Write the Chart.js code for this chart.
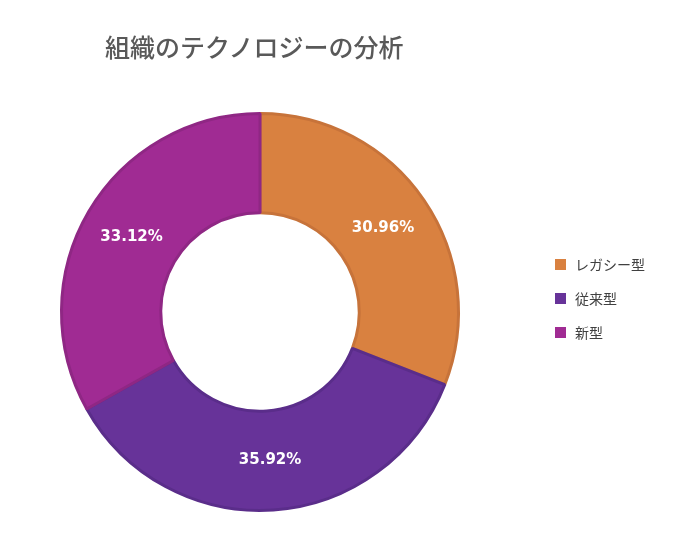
<!DOCTYPE html>
<html>
<head>
<meta charset="utf-8">
<script src="https://cdn.jsdelivr.net/npm/chart.js@4"></script>
<style>
  body { margin: 0; background: #fff; font-family: "Noto Sans CJK JP", "Noto Sans", sans-serif; }
  #wrap { position: relative; width: 679px; height: 539px; }
  #title { position: absolute; left: 105px; top: 28px; font-size: 25px; color: #595959; font-weight: 500; }
  #legend { position: absolute; left: 555px; top: 247px; font-size: 14px; color: #404040; }
  .item { display: flex; align-items: center; height: 34px; }
  .box { width: 11px; height: 11px; margin-right: 9px; }
</style>
</head>
<body>
<div id="wrap">
  <canvas id="c" width="679" height="539"></canvas>
  <div id="title">組織のテクノロジーの分析</div>
  <div id="legend"></div>
</div>
<script>
const labels = ["レガシー型", "従来型", "新型"];
const values = [30.96, 35.92, 33.12];
const colors = ["#D98140", "#673399", "#A02B93"];
const borders = ["#C7733A", "#5A2D8A", "#8F2784"];

// legend
const legendEl = document.getElementById("legend");
labels.forEach((l, i) => {
  const d = document.createElement("div");
  d.className = "item";
  d.innerHTML = `<span class="box" style="background:${colors[i]}"></span>${l}`;
  legendEl.appendChild(d);
});

// percentage labels drawn at arc centres
const pctLabels = {
  id: "pctLabels",
  afterDatasetsDraw(chart) {
    const ctx = chart.ctx;
    const total = values.reduce((a, b) => a + b, 0);
    chart.getDatasetMeta(0).data.forEach((arc, i) => {
      const p = arc.tooltipPosition();
      ctx.save();
      ctx.fillStyle = "#fff";
      ctx.font = "bold 15px 'DejaVu Sans', sans-serif";
      ctx.textAlign = "center";
      ctx.textBaseline = "middle";
      ctx.fillText(((values[i] / total) * 100).toFixed(2) + "%", p.x, p.y);
      ctx.restore();
    });
  },
};

new Chart(document.getElementById("c"), {
  type: "doughnut",
  data: {
    labels: labels,
    datasets: [{
      data: values,
      backgroundColor: colors,
      borderColor: borders,
      borderWidth: 3,
    }],
  },
  options: {
    responsive: false,
    animation: false,
    cutout: "50%",
    layout: { padding: { top: 112, bottom: 27, left: 60, right: 219 } },
    plugins: { legend: { display: false }, tooltip: { enabled: false } },
  },
  plugins: [pctLabels],
});
</script>
</body>
</html>
